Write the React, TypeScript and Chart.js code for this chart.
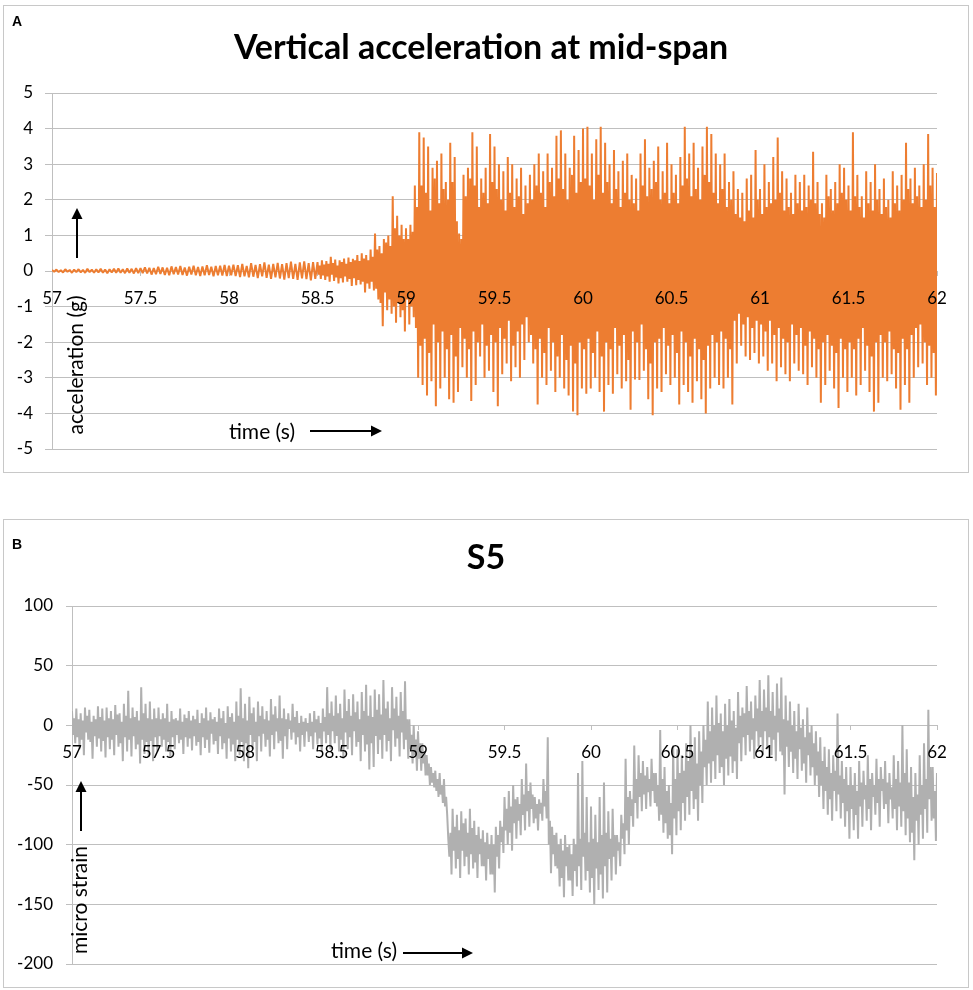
import React, { useEffect, useRef } from "react";
import { Chart, registerables } from "chart.js";

Chart.register(...registerables);

// ---------------- data ----------------
const T_START = 57;
const SEGMENT = 0.5; // seconds covered by each segment array (samples evenly spaced inside it)

const X_TICK_LABELS = ["57", "57.5", "58", "58.5", "59", "59.5", "60", "60.5", "61", "61.5", "62"];
const ACC_Y_TICKS = ["-5", "-4", "-3", "-2", "-1", "0", "1", "2", "3", "4", "5"];
const STRAIN_Y_TICKS = ["-200", "-150", "-100", "-50", "0", "50", "100"];

// Vertical acceleration (g), one array per half second
const acc57_0 = [0.03, -0.02, 0.04, -0.03, 0.02, -0.04, 0.05, -0.02, 0.03, -0.05, 0.04, -0.03, 0.05, -0.04, 0.03, -0.05, 0.06, -0.03, 0.04, -0.05, 0.05, -0.04, 0.06, -0.05, 0.04, -0.06, 0.05, -0.04, 0.06, -0.05, 0.07, -0.05, 0.05, -0.06, 0.07, -0.05, 0.06, -0.07, 0.08, -0.06];
const acc57_5 = [0.08, -0.06, 0.1, -0.07, 0.09, -0.1, 0.08, -0.09, 0.12, -0.08, 0.1, -0.11, 0.09, -0.12, 0.13, -0.09, 0.11, -0.1, 0.14, -0.11, 0.1, -0.13, 0.12, -0.1, 0.15, -0.12, 0.11, -0.14, 0.13, -0.12, 0.16, -0.11, 0.12, -0.15, 0.14, -0.12, 0.15, -0.13, 0.17, -0.14];
const acc58_0 = [0.15, -0.12, 0.18, -0.14, 0.16, -0.17, 0.2, -0.15, 0.14, -0.18, 0.22, -0.16, 0.17, -0.2, 0.19, -0.15, 0.24, -0.19, 0.18, -0.22, 0.2, -0.18, 0.23, -0.21, 0.19, -0.24, 0.22, -0.2, 0.26, -0.22, 0.2, -0.25, 0.24, -0.21, 0.27, -0.23, 0.22, -0.26, 0.25, -0.22];
const acc58_5 = [
  0.25, -0.1, 0.15, -0.22, 0.3, -0.12, 0.18, -0.25, 0.28, -0.15, 0.2, -0.3, 0.4, -0.1, 0.22, -0.28,
  0.32, -0.18, 0.15, -0.35, 0.3, -0.2, 0.25, -0.32, 0.35, -0.15, 0.2, -0.3, 0.38, -0.22, 0.25, -0.42,
  0.34, -0.2, 0.3, -0.4, 0.45, -0.25, 0.28, -0.38, 0.5, -0.3, 0.35, -0.6, 0.45, -0.35, 0.3, -0.5,
  0.6, -0.3, 0.4, -0.55, 1.05, -0.5, 0.6, -0.8, 0.7, -0.9, 0.5, -1.55, 0.9, -0.6, 0.8, -1.1,
  1.0, -0.8, 0.7, -1.2, 2.1, -1.0, 1.2, -1.45, 1.55, -0.9, 1.0, -1.3, 1.3, -1.1, 0.9, -1.7,
];
const acc59_0 = [
  1.2, -0.8, 0.9, -1.5, 1.3, -1.0, 1.1, -1.3, 2.4, -1.6, 1.8, -3.0, 3.9, -2.1, 2.4, -3.2,
  3.75, -1.9, 2.2, -3.5, 3.5, -2.3, 1.7, -3.1, 2.9, -1.5, 2.6, -3.8, 3.1, -2.0, 1.9, -3.3,
  3.3, -1.7, 2.3, -3.0, 2.5, -2.2, 2.0, -3.6, 3.6, -1.8, 2.5, -3.7, 3.2, -2.4, 1.4, -3.4,
  1.05, -1.6, 0.9, -2.7, 2.7, -1.9, 2.1, -3.0, 2.9, -2.2, 2.6, -3.65, 3.9, -1.7, 2.4, -3.2,
  3.5, -2.0, 1.8, -2.4, 2.6, -1.5, 2.2, -3.0, 2.9, -2.1, 1.9, -2.8, 3.85, -1.8, 2.5, -3.4,
];
const acc59_5 = [
  3.5, -2.0, 2.3, -3.8, 3.0, -1.6, 2.0, -2.9, 2.8, -1.9, 1.7, -2.6, 3.2, -1.4, 2.2, -3.1,
  3.0, -2.1, 1.8, -2.7, 2.6, -1.7, 2.1, -3.0, 2.9, -1.5, 1.6, -2.5, 2.4, -1.3, 1.9, -2.0,
  2.7, -1.8, 2.0, -2.6, 3.0, -2.2, 2.4, -3.75, 3.3, -1.9, 2.2, -3.0, 2.8, -2.3, 1.8, -3.2,
  3.3, -1.6, 2.5, -2.8, 2.9, -2.0, 2.1, -3.4, 3.8, -2.4, 2.6, -3.0, 3.95, -1.8, 2.3, -3.3,
  3.3, -2.5, 2.0, -3.5, 2.9, -2.1, 2.7, -3.95, 3.8, -2.6, 2.2, -4.05, 3.4, -2.0, 2.5, -3.3,
];
const acc60_0 = [
  4.0, -2.2, 2.6, -3.45, 4.05, -1.9, 2.4, -3.3, 3.3, -2.3, 2.0, -3.0, 3.7, -1.7, 2.7, -3.4,
  4.05, -2.4, 2.2, -3.95, 3.6, -2.0, 2.5, -3.2, 3.0, -2.2, 1.9, -3.45, 3.4, -1.6, 2.3, -2.9,
  2.8, -2.1, 1.8, -3.3, 3.1, -1.8, 2.2, -3.1, 3.3, -2.5, 2.0, -3.9, 2.7, -1.7, 1.9, -3.05,
  2.6, -2.0, 1.7, -3.06, 3.3, -1.5, 2.4, -2.8, 3.7, -2.2, 2.1, -3.6, 2.9, -2.6, 2.3, -4.05,
  3.1, -2.0, 2.5, -3.3, 3.5, -1.9, 2.0, -3.4, 2.8, -1.6, 2.2, -2.9, 3.6, -2.1, 1.9, -3.2,
];
const acc60_5 = [
  3.0, -1.8, 2.2, -3.0, 2.7, -2.3, 1.9, -3.75, 3.2, -1.7, 2.4, -3.2, 4.05, -2.0, 2.6, -3.4,
  3.3, -2.4, 2.1, -3.7, 3.6, -1.9, 2.3, -3.1, 2.9, -2.2, 2.0, -3.6, 3.5, -2.5, 2.7, -4.0,
  4.05, -2.1, 2.5, -3.3, 3.85, -1.8, 2.2, -3.0, 3.3, -2.0, 1.9, -3.2, 3.0, -1.7, 2.3, -3.3,
  3.3, -1.9, 1.8, -3.0, 2.5, -2.2, 2.0, -3.75, 2.8, -1.4, 1.6, -2.6, 2.3, -1.2, 1.5, -2.1,
  2.2, -1.5, 1.4, -2.4, 2.6, -1.3, 1.7, -2.5, 2.7, -1.6, 1.5, -2.3, 3.4, -1.4, 2.0, -2.6,
];
const acc61_0 = [
  2.3, -1.5, 1.6, -2.4, 3.0, -1.7, 1.8, -2.8, 2.5, -1.4, 1.9, -2.6, 3.2, -1.8, 2.0, -3.1,
  3.75, -1.6, 2.2, -2.7, 2.8, -1.9, 1.7, -2.9, 2.6, -2.0, 1.8, -3.1, 2.2, -1.5, 1.6, -2.6,
  2.7, -1.8, 1.9, -2.8, 2.5, -1.6, 1.7, -2.9, 2.7, -2.1, 1.8, -3.2, 2.4, -1.7, 2.0, -2.7,
  3.35, -1.9, 1.9, -3.0, 2.5, -2.2, 1.6, -3.7, 1.9, -2.0, 1.5, -3.2, 2.7, -1.8, 2.1, -2.8,
  2.3, -2.1, 1.7, -3.3, 2.5, -2.3, 1.9, -3.85, 3.0, -1.9, 2.2, -3.0, 2.9, -2.2, 2.0, -3.4,
];
const acc61_5 = [
  2.4, -2.0, 1.7, -3.0, 3.9, -2.2, 2.1, -3.5, 2.7, -1.9, 1.8, -3.2, 2.1, -1.6, 1.5, -2.8,
  2.8, -2.1, 1.9, -3.4, 2.5, -2.4, 1.7, -3.95, 3.0, -2.0, 2.0, -3.7, 2.3, -1.8, 1.6, -3.0,
  2.6, -2.0, 1.8, -3.1, 2.0, -1.7, 1.5, -2.9, 2.8, -2.2, 1.9, -3.3, 2.4, -2.3, 1.7, -3.9,
  2.7, -1.9, 2.0, -3.2, 3.6, -2.2, 2.3, -3.7, 2.6, -1.8, 1.9, -3.0, 2.9, -1.6, 2.1, -2.7,
  2.4, -1.5, 1.8, -2.6, 3.0, -2.0, 2.0, -3.2, 3.85, -2.1, 2.4, -3.0, 2.9, -2.3, 1.8, -3.5,
];
const accAt62 = 2.75;

// S5 micro strain, one array per half second
const strain57_0 = [
  12, -8, 6, -15, 14, -10, 5, -20, 10, -12, 4, -25, 15, -6, 8, -12,
  13, -14, 3, -28, 8, -9, 5, -18, 16, -11, 7, -22, 14, -13, 4, -27,
  15, -10, 6, -20, 12, -12, 5, -25, 17, -8, 9, -18, 10, -15, 3, -30,
  18, -10, 8, -22, 29, -12, 6, -26, 15, -9, 7, -20, 12, -16, 4, -32,
  32, -12, 10, -24, 18, -14, 6, -26, 20, -13, 5, -30, 14, -10, 6, -22,
];
const strain57_5 = [
  15, -9, 5, -18, 10, -12, 6, -22, 18, -14, 3, -26, 12, -10, 5, -20,
  6, -8, 4, -15, 14, -12, 3, -24, 9, -10, 6, -18, 12, -11, 4, -21,
  8, -9, 5, -17, 13, -14, 2, -25, 10, -10, 6, -19, 15, -12, 4, -23,
  11, -7, 5, -16, 7, -13, 3, -24, 14, -9, 6, -20, 12, -15, 2, -28,
  16, -11, 7, -22, 10, -16, 3, -30, 20, -12, 8, -25, 31, -14, 6, -30,
];
const strain58_0 = [
  18, -15, 4, -36, 24, -8, 10, -20, 15, -14, 3, -30, 20, -9, 8, -22,
  16, -7, 5, -18, 12, -12, 4, -26, 22, -8, 9, -20, 16, -5, 6, -15,
  25, -13, 6, -28, 14, -9, 5, -20, 10, -3, 4, -12, 18, -6, 7, -16,
  12, -10, 2, -22, 8, -8, 3, -18, 6, -5, 2, -14, 10, -9, 3, -20,
  12, -6, 5, -16, 8, -11, 2, -22, 14, -5, 7, -15, 32, -8, 10, -20,
];
const strain58_5 = [
  20, -5, 8, -15, 25, -9, 10, -22, 18, -12, 6, -28, 30, -6, 12, -20,
  22, -10, 8, -25, 26, -5, 11, -18, 20, -14, 5, -30, 28, -8, 12, -22,
  34, -16, 8, -37, 25, -15, 7, -35, 30, -9, 13, -24, 26, -12, 9, -28,
  38, -8, 14, -22, 20, -13, 6, -30, 32, -4, 14, -18, 24, -11, 8, -26,
  28, -6, 12, -20, 37, -12, 5, -28, 5, -20, -8, -32, 0, -25, -12, -38,
];
const strain59_0 = [
  -5, -28, -15, -38, -15, -32, -22, -42, -25, -42, -32, -50, -35, -48, -40, -52,
  -38, -55, -45, -60, -40, -58, -50, -65, -45, -68, -60, -75, -95, -110, -90, -125,
  -70, -105, -85, -120, -75, -112, -88, -128, -72, -105, -82, -118, -78, -110, -90, -125,
  -70, -108, -86, -120, -80, -115, -92, -128, -85, -108, -95, -118, -88, -118, -98, -130,
  -90, -112, -100, -125, -92, -125, -100, -140, -85, -110, -92, -120, -80, -98, -85, -107,
];
const strain59_5 = [
  -60, -88, -70, -100, -55, -90, -68, -105, -50, -82, -62, -95, -60, -80, -66, -92,
  -45, -75, -58, -88, -32, -72, -55, -85, -48, -70, -58, -82, -60, -78, -66, -88,
  -62, -74, -65, -80, -45, -68, -55, -78, -10, -100, -80, -124, -85, -108, -92, -118,
  -90, -120, -100, -135, -95, -128, -105, -144, -92, -118, -102, -130, -100, -130, -108, -143,
  -95, -122, -100, -135, -40, -118, -95, -138, -30, -110, -90, -130, -60, -122, -98, -140,
];
const strain60_0 = [
  -68, -128, -95, -150, -75, -120, -98, -138, -60, -125, -92, -145, -48, -118, -90, -140,
  -72, -112, -95, -130, -70, -110, -92, -125, -92, -105, -98, -118, -75, -95, -82, -108,
  -28, -88, -60, -100, -55, -76, -62, -85, -17, -65, -45, -78, -25, -60, -40, -72,
  -30, -58, -42, -70, -35, -56, -45, -68, -28, -55, -40, -65, -40, -68, -50, -80,
  -4, -75, -45, -90, -35, -82, -55, -95, -50, -92, -65, -108, -17, -78, -45, -92,
];
const strain60_5 = [
  -20, -72, -40, -88, -25, -65, -38, -80, -15, -60, -30, -75, 0, -55, -25, -70,
  -10, -62, -32, -80, -5, -50, -22, -65, 0, -35, -12, -50, 20, -32, -5, -48,
  15, -30, 0, -45, 25, -25, 2, -40, 10, -35, -5, -50, 18, -28, 0, -42,
  22, -26, 4, -40, 12, -30, -2, -45, 28, -15, 8, -30, 15, -10, 10, -25,
  33, -8, 12, -22, 20, -12, 6, -28, 25, -5, 14, -18, 38, -10, 12, -25,
];
const strain61_0 = [
  30, -5, 15, -20, 42, -10, 12, -25, 28, -12, 8, -30, 35, -6, 14, -22,
  40, -25, 5, -58, 25, -18, 4, -35, 20, -22, 0, -40, 12, -28, -5, -45,
  18, -20, -2, -38, 5, -32, -10, -48, 15, -25, -6, -42, 0, -35, -15, -50,
  -5, -42, -22, -60, -10, -50, -30, -70, -18, -55, -35, -75, -20, -62, -40, -80,
  -25, -55, -38, -72, 10, -58, -42, -78, -30, -65, -45, -85, -35, -72, -50, -95,
];
const strain61_5 = [
  -35, -70, -50, -88, -40, -75, -55, -95, -30, -68, -48, -85, -38, -62, -50, -80,
  -25, -70, -45, -88, -40, -60, -50, -75, -28, -65, -45, -85, -35, -55, -45, -70,
  -30, -66, -48, -82, -40, -62, -52, -78, -25, -70, -45, -88, -30, -68, -48, -85,
  0, -72, -40, -92, -20, -78, -48, -98, -35, -90, -60, -113, -40, -80, -58, -100,
  -25, -75, -50, -95, -15, -70, -45, -90, 13, -62, -35, -80, -35, -78, -55, -97,
];
const strainAt62 = -40;

const ACC_SEGMENTS = [acc57_0, acc57_5, acc58_0, acc58_5, acc59_0, acc59_5, acc60_0, acc60_5, acc61_0, acc61_5];
const STRAIN_SEGMENTS = [strain57_0, strain57_5, strain58_0, strain58_5, strain59_0, strain59_5, strain60_0, strain60_5, strain61_0, strain61_5];

// ---------------- styling ----------------
const FONT = "Lato, 'Open Sans', sans-serif";
const GRID = "#bfbfbf";
const ORANGE = "#ED7D31";
const GRAY = "#b0b0b0";

type Pt = { x: number; y: number };

function buildPoints(segments: number[][], last: number): Pt[] {
  const pts: Pt[] = [];
  segments.forEach((seg, k) => {
    const step = SEGMENT / seg.length;
    seg.forEach((v, i) => {
      pts.push({ x: T_START + k * SEGMENT + i * step, y: v });
    });
  });
  pts.push({ x: T_START + segments.length * SEGMENT, y: last });
  return pts;
}

type Annot = {
  title: { text: string; x: number; y: number };
  letter: { text: string; x: number; y: number };
  upArrow: { x: number; y1: number; y2: number };
  yText: { text: string; x: number; y: number };
  xText: { text: string; x: number; y: number };
  rightArrow: { x1: number; x2: number; y: number };
};

function drawArrow(ctx: CanvasRenderingContext2D, x1: number, y1: number, x2: number, y2: number) {
  const ang = Math.atan2(y2 - y1, x2 - x1);
  const head = 11;
  const half = 5.5;
  const bx = x2 - head * Math.cos(ang);
  const by = y2 - head * Math.sin(ang);
  ctx.strokeStyle = "#000";
  ctx.fillStyle = "#000";
  ctx.lineWidth = 2;
  ctx.beginPath();
  ctx.moveTo(x1, y1);
  ctx.lineTo(bx, by);
  ctx.stroke();
  ctx.beginPath();
  ctx.moveTo(x2, y2);
  ctx.lineTo(bx + half * Math.sin(ang), by - half * Math.cos(ang));
  ctx.lineTo(bx - half * Math.sin(ang), by + half * Math.cos(ang));
  ctx.closePath();
  ctx.fill();
}

function annotationPlugin(a: Annot) {
  return {
    id: "panelAnnotations",
    afterDraw(chart: any) {
      const ctx: CanvasRenderingContext2D = chart.ctx;
      ctx.save();
      // chart title
      ctx.fillStyle = "#000";
      ctx.font = `bold 34px ${FONT}`;
      ctx.textAlign = "center";
      ctx.textBaseline = "alphabetic";
      ctx.fillText(a.title.text, a.title.x, a.title.y);

      // panel letter
      ctx.font = "bold 14px 'Liberation Sans', Arial, sans-serif";
      ctx.textAlign = "left";
      ctx.textBaseline = "middle";
      ctx.fillText(a.letter.text, a.letter.x, a.letter.y);

      drawArrow(ctx, a.upArrow.x, a.upArrow.y1, a.upArrow.x, a.upArrow.y2);
      drawArrow(ctx, a.rightArrow.x1, a.rightArrow.y, a.rightArrow.x2, a.rightArrow.y);

      ctx.fillStyle = "#000";
      ctx.font = `21px ${FONT}`;
      ctx.textAlign = "center";
      ctx.textBaseline = "middle";
      ctx.fillText(a.xText.text, a.xText.x, a.xText.y);

      ctx.save();
      ctx.translate(a.yText.x, a.yText.y);
      ctx.rotate(-Math.PI / 2);
      ctx.fillText(a.yText.text, 0, 0);
      ctx.restore();
      ctx.restore();
    },
  };
}

type PanelProps = {
  top: number;
  height: number;
  color: string;
  points: Pt[];
  yMin: number;
  yMax: number;
  yStep: number;
  yTicks: string[];
  yAxisWidth: number;
  yTickLength: number;
  yPadding: number;
  layoutPadding: { left: number; right: number; top: number; bottom: number };
  annot: Annot;
};

function Panel(p: PanelProps) {
  const ref = useRef<HTMLCanvasElement | null>(null);
  useEffect(() => {
    if (!ref.current) return;
    const chart = new Chart(ref.current, {
      type: "line",
      data: {
        datasets: [
          {
            data: p.points,
            borderColor: p.color,
            borderWidth: 2,
            pointRadius: 0,
            fill: false,
            tension: 0,
            borderJoinStyle: "bevel",
          },
        ],
      },
      options: {
        responsive: false,
        animation: false,
        events: [],
        layout: { padding: p.layoutPadding },
        plugins: {
          legend: { display: false },
          tooltip: { enabled: false },
          title: { display: false },
        },
        scales: {
          x: {
            type: "linear",
            min: 57,
            max: 62,
            position: { y: 0 },
            ticks: {
              z: 1,
              stepSize: 0.5,
              autoSkip: false,
              maxRotation: 0,
              color: "#000",
              font: { family: FONT, size: 17 },
              padding: 12,
              callback: (_v: any, i: number) => X_TICK_LABELS[i],
            },
            grid: { drawOnChartArea: false, tickLength: 5, color: GRID },
            border: { display: false },
          },
          y: {
            type: "linear",
            min: p.yMin,
            max: p.yMax,
            ticks: {
              stepSize: p.yStep,
              color: "#000",
              font: { family: FONT, size: 17 },
              padding: p.yPadding,
              callback: (_v: any, i: number) => p.yTicks[i],
            },
            grid: { color: GRID, tickLength: p.yTickLength, lineWidth: 1 },
            border: { color: GRID, width: 1 },
            afterFit: (s: any) => {
              s.width = p.yAxisWidth;
            },
          },
        },
      } as any,
      plugins: [annotationPlugin(p.annot)],
    });
    return () => chart.destroy();
  }, []);
  return (
    <canvas
      ref={ref}
      width={973}
      height={p.height}
      style={{ position: "absolute", left: 0, top: p.top, width: 973, height: p.height }}
    />
  );
}

export default function App() {
  const accPoints = buildPoints(ACC_SEGMENTS, accAt62);
  const strainPoints = buildPoints(STRAIN_SEGMENTS, strainAt62);
  const frame = (top: number, height: number): React.CSSProperties => ({
    position: "absolute",
    left: 3,
    top,
    width: 966,
    height,
    border: "1px solid #c8c8c8",
    boxSizing: "border-box",
    pointerEvents: "none",
  });
  return (
    <div style={{ position: "absolute", left: 0, top: 0, width: 973, height: 990, background: "#fff", overflow: "hidden" }}>
      <Panel
        top={0}
        height={495}
        color={ORANGE}
        points={accPoints}
        yMin={-5}
        yMax={5}
        yStep={1}
        yTicks={ACC_Y_TICKS}
        yAxisWidth={52}
        yTickLength={7}
        yPadding={12}
        layoutPadding={{ left: 0, right: 36, top: 93, bottom: 46 }}
        annot={{
          title: { text: "Vertical acceleration at mid-span", x: 481, y: 59 },
          letter: { text: "A", x: 12, y: 22 },
          upArrow: { x: 77, y1: 258, y2: 208 },
          yText: { text: "acceleration (g)", x: 76, y: 365 },
          xText: { text: "time (s)", x: 262, y: 432 },
          rightArrow: { x1: 310, x2: 382, y: 431 },
        }}
      />
      <Panel
        top={495}
        height={495}
        color={GRAY}
        points={strainPoints}
        yMin={-200}
        yMax={100}
        yStep={50}
        yTicks={STRAIN_Y_TICKS}
        yAxisWidth={72}
        yTickLength={6}
        yPadding={13}
        layoutPadding={{ left: 0, right: 36, top: 111, bottom: 26 }}
        annot={{
          title: { text: "S5", x: 486, y: 74 },
          letter: { text: "B", x: 12, y: 50 },
          upArrow: { x: 81, y1: 336, y2: 286 },
          yText: { text: "micro strain", x: 80, y: 405 },
          xText: { text: "time (s)", x: 364, y: 456 },
          rightArrow: { x1: 403, x2: 473, y: 458 },
        }}
      />
      <div style={frame(5, 468)} />
      <div style={frame(519, 469)} />
    </div>
  );
}
